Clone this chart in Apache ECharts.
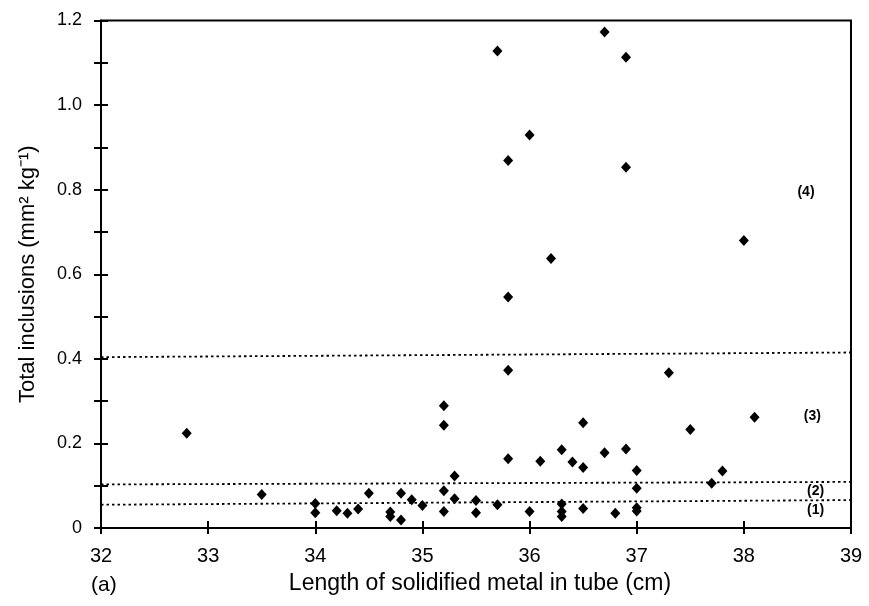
<!DOCTYPE html>
<html>
<head>
<meta charset="utf-8">
<script src="https://cdn.jsdelivr.net/npm/echarts@6/dist/echarts.min.js"></script>
<style>html,body{margin:0;padding:0;background:#fff;}#c{width:869px;height:606px;}</style>
</head>
<body>
<div id="c"></div>
<script>
// Scatter data: length (cm) and total inclusions (mm2 kg-1)
var lengthVals = [32.8, 33.5, 34.0, 34.0, 34.2, 34.3, 34.4, 34.5, 34.7, 34.7, 34.8, 34.8, 34.9, 35.0,
  35.2, 35.2, 35.2, 35.2, 35.3, 35.3, 35.5, 35.5, 35.7, 35.7, 35.8, 35.8, 35.8, 35.8,
  36.0, 36.0, 36.1, 36.2, 36.3, 36.3, 36.3, 36.3, 36.4, 36.5, 36.5, 36.5, 36.7, 36.7, 36.8,
  36.9, 36.9, 36.9, 37.0, 37.0, 37.0, 37.0, 37.3, 37.5, 37.7, 37.8, 38.0, 38.1];
var inclusionVals = [0.224, 0.079, 0.058, 0.036, 0.041, 0.035, 0.045, 0.082, 0.038, 0.027, 0.019, 0.082, 0.067, 0.053,
  0.289, 0.243, 0.088, 0.039, 0.123, 0.069, 0.065, 0.036, 0.055, 1.128, 0.164, 0.373, 0.546, 0.869,
  0.039, 0.929, 0.158, 0.637, 0.185, 0.057, 0.039, 0.027, 0.156, 0.249, 0.143, 0.046, 0.178, 1.173, 0.035,
  0.187, 1.113, 0.853, 0.136, 0.094, 0.048, 0.040, 0.367, 0.233, 0.106, 0.135, 0.680, 0.262];

// Dotted boundary lines [x, y] endpoints
var boundary34 = [[32, 0.404], [39, 0.415]];
var boundary23 = [[32, 0.103], [39, 0.109]];
var boundary12 = [[32, 0.055], [39, 0.066]];

// Region labels
var regionNames = ['(4)', '(3)', '(2)', '(1)'];
var regionX = [38.58, 38.64, 38.67, 38.67];
var regionY = [0.795, 0.265, 0.086, 0.043];

var xTitle = 'Length of solidified metal in tube (cm)';
var yTitle = 'Total inclusions (mm\u00B2 kg\u207B\u00B9)';

var points = lengthVals.map(function (v, i) { return [v, inclusionVals[i]]; });
var regionData = regionNames.map(function (n, i) { return { name: n, value: [regionX[i], regionY[i]] }; });

var FONT = 'Liberation Sans, Arial, Helvetica, sans-serif';
var chart = echarts.init(document.getElementById('c'), null, { renderer: 'canvas' });

function dotted(data) {
  return {
    type: 'line', data: data, xAxisIndex: 0, yAxisIndex: 0,
    symbol: 'none', silent: true, animation: false,
    lineStyle: { color: '#000', width: 1.8, type: [2.5, 3], opacity: 1 }, z: 1
  };
}

chart.setOption({
  animation: false,
  backgroundColor: '#fff',
  grid: { left: 101, right: 18, top: 20.5, bottom: 78, show: true, borderColor: '#000', borderWidth: 2, backgroundColor: 'transparent' },
  xAxis: [{
    type: 'value', min: 32, max: 39, interval: 1,
    name: xTitle, nameLocation: 'middle', nameGap: 44,
    nameTextStyle: { fontFamily: FONT, fontSize: 23, color: '#000', padding: [0, 0, 0, 8] },
    axisLine: { show: true, onZero: false, lineStyle: { color: '#000', width: 2 } },
    axisTick: { show: true, inside: false, length: 6, lineStyle: { color: '#000', width: 2 } },
    axisLabel: { fontFamily: FONT, fontSize: 20, color: '#000', margin: 18 },
    splitLine: { show: false }
  }, {
    type: 'value', min: 32, max: 39, interval: 1, position: 'bottom',
    axisLine: { show: false },
    axisTick: { show: true, inside: true, length: 7, lineStyle: { color: '#000', width: 2 } },
    axisLabel: { show: false }, splitLine: { show: false }
  }],
  yAxis: [{
    type: 'value', min: 0, max: 1.2, interval: 0.1,
    name: yTitle, nameLocation: 'middle', nameGap: 62, nameRotate: 90,
    nameTextStyle: { fontFamily: FONT, fontSize: 22, color: '#000' },
    axisLine: { show: true, onZero: false, lineStyle: { color: '#000', width: 2 } },
    axisTick: { show: true, inside: false, length: 7, lineStyle: { color: '#000', width: 2 } },
    axisLabel: {
      fontFamily: FONT, fontSize: 18, color: '#000', margin: 19,
      formatter: function (v) {
        var k = Math.round(v * 10);
        if (k % 2 !== 0) return '';
        return k === 0 ? '0' : (k / 10).toFixed(1);
      }
    },
    splitLine: { show: false }
  }, {
    type: 'value', min: 0, max: 1.2, interval: 0.1, position: 'left',
    axisLine: { show: false },
    axisTick: { show: true, inside: true, length: 7, lineStyle: { color: '#000', width: 2 } },
    axisLabel: { show: false }, splitLine: { show: false }
  }],
  graphic: [{
    type: 'text', left: 91, top: 575,
    style: { text: '(a)', fontFamily: FONT, fontSize: 21, fill: '#000' }
  }],
  series: [
    dotted(boundary34), dotted(boundary23), dotted(boundary12),
    {
      type: 'scatter', data: points, xAxisIndex: 0, yAxisIndex: 0,
      symbol: 'diamond', symbolSize: [10, 11],
      itemStyle: { color: '#000', opacity: 1 }, z: 3
    },
    {
      type: 'scatter', data: regionData, xAxisIndex: 0, yAxisIndex: 0,
      symbolSize: 0, silent: true,
      itemStyle: { opacity: 1 },
      label: { show: true, position: 'inside', formatter: '{b}', fontFamily: FONT, fontSize: 14, fontWeight: 'bold', color: '#000' }
    }
  ]
});
</script>
</body>
</html>
